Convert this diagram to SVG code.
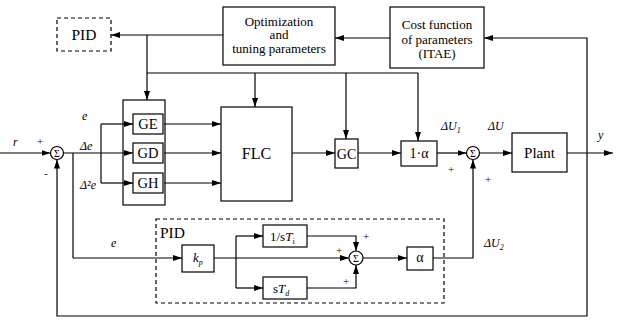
<svg xmlns="http://www.w3.org/2000/svg" width="618" height="320" viewBox="0 0 618 320" font-family="Liberation Serif, DejaVu Serif, serif">
<defs>
<marker id="arr" markerWidth="9" markerHeight="6" refX="9" refY="3" orient="auto" markerUnits="userSpaceOnUse"><path d="M0,0 L9,3 L0,6 z" fill="#000"/></marker>
<style>
.box{fill:#fff;stroke:#000;stroke-width:1.2}
.dash{fill:none;stroke:#000;stroke-width:1.2;stroke-dasharray:4,3}
.wire{fill:none;stroke:#000;stroke-width:1.2}
.arrow{fill:none;stroke:#000;stroke-width:1.2;marker-end:url(#arr)}
</style>
</defs>
<rect width="618" height="320" fill="#fff"/>
<g id="connectors">
<path class="arrow" d="M0,153 H50.5"/>
<path class="arrow" d="M63.5,153 H133"/>
<path class="wire" d="M101,124 V183"/>
<path class="arrow" d="M101,124 H133"/>
<path class="arrow" d="M101,183 H133"/>
<path class="wire" d="M73,153 V258"/>
<path class="arrow" d="M73,258 H182"/>
<path class="arrow" d="M164,124 H221"/>
<path class="arrow" d="M164,153 H221"/>
<path class="arrow" d="M164,183 H221"/>
<path class="arrow" d="M292,153 H335"/>
<path class="arrow" d="M358,153 H401"/>
<path class="arrow" d="M437,153 H466.5"/>
<path class="arrow" d="M479.5,153 H512"/>
<path class="arrow" d="M567,153 H613"/>
<path class="arrow" d="M587,153 V38 H484"/>
<path class="arrow" d="M587,153 V316 H57 V159.5"/>
<path class="arrow" d="M390,38 H335"/>
<path class="arrow" d="M223,35 H111"/>
<path class="arrow" d="M147,35 V100"/>
<path class="wire" d="M147,73 H418"/>
<path class="arrow" d="M255,73 V107"/>
<path class="arrow" d="M346,73 V139"/>
<path class="arrow" d="M418,73 V141"/>
<path class="arrow" d="M214,258 H349"/>
<path class="wire" d="M236,236 V288"/>
<path class="arrow" d="M236,236 H263"/>
<path class="arrow" d="M236,288 H263"/>
<path class="arrow" d="M307,236 H356 V251"/>
<path class="arrow" d="M307,288 H356 V265"/>
<path class="arrow" d="M363,258 H407"/>
<path class="arrow" d="M433,258 H473 V159.5"/>
</g>
<g id="pid_top"><rect class="dash" x="57" y="18" width="54" height="33"/><text x="84" y="40" font-size="15.5" text-anchor="middle">PID</text></g>
<g id="optimization"><rect class="box" x="223" y="7" width="112" height="58"/>
<g font-size="13" text-anchor="middle"><text x="279" y="25.5">Optimization</text><text x="279" y="39">and</text><text x="279" y="52.5">tuning parameters</text></g></g>
<g id="cost"><rect class="box" x="390" y="7" width="94" height="61"/>
<g font-size="13" text-anchor="middle"><text x="437" y="29">Cost function</text><text x="437" y="43.5">of parameters</text><text x="437" y="58">(ITAE)</text></g></g>
<g id="sum1"><circle class="box" cx="57" cy="153" r="6.5"/><text x="57" y="156.5" font-size="10" text-anchor="middle">Σ</text></g>
<g id="gain_group"><rect class="wire" x="123" y="100" width="42" height="105"/></g>
<g id="GE"><rect class="box" x="133" y="114" width="30" height="20"/><text x="148" y="129" font-size="14.5" text-anchor="middle">GE</text></g>
<g id="GD"><rect class="box" x="133" y="143" width="30" height="20"/><text x="148" y="158" font-size="14.5" text-anchor="middle">GD</text></g>
<g id="GH"><rect class="box" x="133" y="173" width="30" height="20"/><text x="148" y="188" font-size="14.5" text-anchor="middle">GH</text></g>
<g id="FLC"><rect class="box" x="221" y="107" width="71" height="94"/><text x="256.5" y="159" font-size="16" text-anchor="middle">FLC</text></g>
<g id="GC"><rect class="box" x="335" y="139" width="23" height="29"/><text x="346.5" y="158.5" font-size="14" text-anchor="middle">GC</text></g>
<g id="one_minus_alpha"><rect class="box" x="401" y="141" width="36" height="25"/><text x="419" y="158" font-size="14" text-anchor="middle">1·α</text></g>
<g id="sum2"><circle class="box" cx="473" cy="153" r="6.5"/><text x="473" y="156.5" font-size="10" text-anchor="middle">Σ</text></g>
<g id="plant"><rect class="box" x="512" y="133" width="55" height="39"/><text x="539.5" y="158" font-size="15" text-anchor="middle">Plant</text></g>
<g id="pid_block"><rect class="dash" x="156" y="219" width="288" height="84"/><text x="160" y="238" font-size="15.5">PID</text></g>
<g id="kp"><rect class="box" x="182" y="245" width="32" height="27"/><text x="193" y="262" font-size="13" font-style="italic">k<tspan font-size="8" dy="3">p</tspan></text></g>
<g id="ti"><rect class="box" x="263" y="225" width="44" height="22"/><text x="270" y="240.5" font-size="13">1/s<tspan font-style="italic">T</tspan><tspan font-size="8" dy="3">i</tspan></text></g>
<g id="td"><rect class="box" x="263" y="277" width="44" height="22"/><text x="273" y="292.5" font-size="13">s<tspan font-style="italic">T</tspan><tspan font-size="8" font-style="italic" dy="3">d</tspan></text></g>
<g id="sum3"><circle class="box" cx="356" cy="258" r="7"/><text x="356" y="261.5" font-size="10" text-anchor="middle">Σ</text></g>
<g id="alpha"><rect class="box" x="407" y="247" width="26" height="23"/><text x="420" y="262" font-size="14" text-anchor="middle">α</text></g>
<g id="labels" font-size="12" font-style="italic">
<text x="13" y="146">r</text>
<text x="37" y="145" font-size="11" font-style="normal">+</text>
<text x="44" y="177" font-size="11" font-style="normal">-</text>
<text x="82" y="120">e</text>
<text x="80" y="150">Δe</text>
<text x="80" y="189">Δ²e</text>
<text x="441" y="130">ΔU<tspan font-size="8" dy="3">1</tspan></text>
<text x="448" y="173" font-size="11" font-style="normal">+</text>
<text x="488" y="130">ΔU</text>
<text x="485" y="183" font-size="11" font-style="normal">+</text>
<text x="598" y="139">y</text>
<text x="111" y="247">e</text>
<text x="363" y="240" font-size="11" font-style="normal">+</text>
<text x="336" y="254" font-size="11" font-style="normal">+</text>
<text x="343" y="285" font-size="11" font-style="normal">+</text>
<text x="484" y="247">ΔU<tspan font-size="8" dy="3">2</tspan></text>
</g>
</svg>
